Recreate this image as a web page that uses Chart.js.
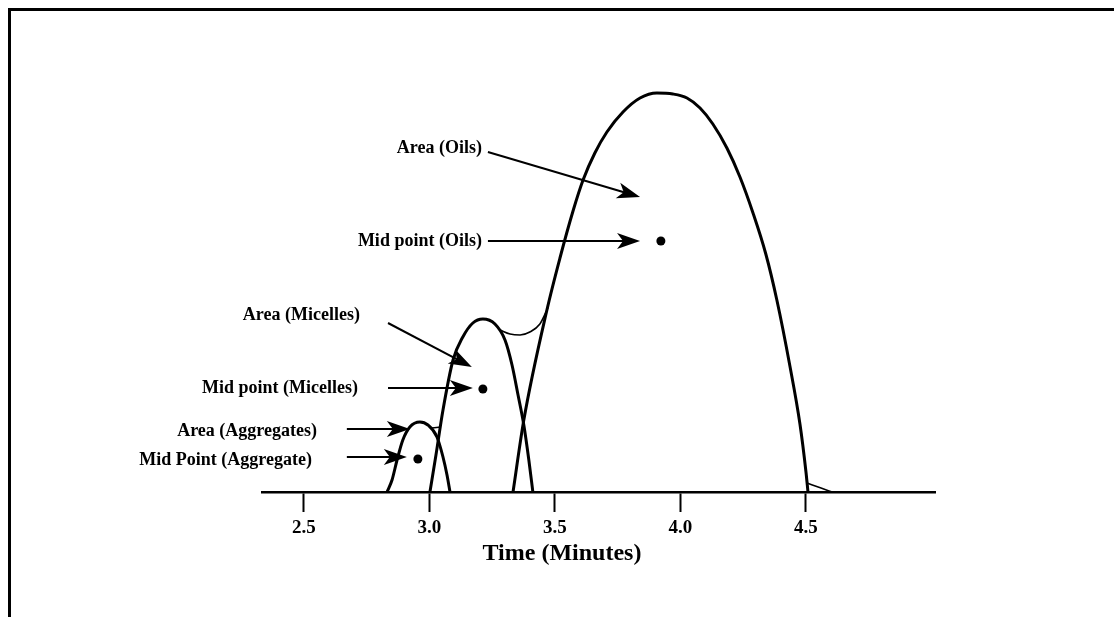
<!DOCTYPE html>
<html lang="en">
  <head>
    <meta charset="UTF-8" />
    <title>Time (Minutes)</title>
    <style>
      body {
        margin: 0;
        background: #fff;
      }
      #wrap {
        position: relative;
        width: 1114px;
        height: 617px;
      }
      #frame {
        position: absolute;
        left: 8px;
        top: 8px;
        right: -10px;
        bottom: -10px;
        border-top: 3px solid #000;
        border-left: 3px solid #000;
      }
    </style>
  </head>
  <body>
    <div id="wrap">
      <div id="frame"></div>
      <canvas id="chart"></canvas>
    </div>

    <script src="https://cdn.jsdelivr.net/npm/chart.js"></script>
    <script>
      // tick labels on the time axis
      const timeTicks = [2.5, 3.0, 3.5, 4.0, 4.5];

      // peak outlines (time in minutes, signal height)
      const oilsX = [3.333, 3.376, 3.468, 3.52, 3.572, 3.612, 3.659, 3.707, 3.771, 3.839, 3.906, 3.97, 4.026, 4.078, 4.129, 4.185, 4.237, 4.289, 4.34, 4.384, 4.436, 4.476, 4.5, 4.508];
      const oilsY = [0, 72, 182, 234, 281, 312, 339, 360, 380, 394, 399, 398, 394, 384, 368, 344, 315, 279, 238, 192, 126, 68, 20, 0];

      const micellesX = [3.002, 3.026, 3.054, 3.094, 3.133, 3.173, 3.213, 3.261, 3.301, 3.329, 3.353, 3.376, 3.396, 3.412];
      const micellesY = [0, 37, 82, 132, 155, 169, 173, 168, 152, 127, 97, 67, 32, 0];

      const aggregatesX = [2.831, 2.851, 2.871, 2.894, 2.922, 2.962, 2.994, 3.03, 3.054, 3.07, 3.082];
      const aggregatesY = [0, 12, 32, 52, 65, 70, 67, 55, 35, 17, 0];

      // thin joining lines
      const envelopeX = [3.281, 3.321, 3.361, 3.4, 3.44, 3.472];
      const envelopeY = [162, 158, 157, 160, 168, 184];
      const shoulderX = [3.01, 3.046];
      const shoulderY = [64, 65];
      const tailX = [4.504, 4.56, 4.604];
      const tailY = [9, 4, 0];

      // mid points
      const midX = [3.922, 3.213, 2.954];
      const midY = [251, 103, 33];

      // annotations: text anchored at its right end, arrow from -> to
      const noteText = ["Area (Oils)", "Mid point (Oils)", "Area (Micelles)", "Mid point (Micelles)", "Area (Aggregates)", "Mid Point (Aggregate)"];
      const noteX = [3.209, 3.209, 2.723, 2.715, 2.552, 2.532];
      const noteY = [344, 251, 177, 104, 61, 32];
      const arrowFromX = [3.233, 3.233, 2.835, 2.835, 2.671, 2.671];
      const arrowFromY = [340, 251, 169, 104, 63, 35];
      const arrowToX = [3.839, 3.839, 3.169, 3.173, 2.922, 2.91];
      const arrowToY = [295, 251, 125, 104, 63, 35];

      const axisTitle = "Time (Minutes)";
      const axisTitleX = 3.528;

      const serif = "'Liberation Serif', 'DejaVu Serif', serif";

      function pts(xs, ys) {
        return xs.map((x, i) => ({ x: x, y: ys[i] }));
      }

      function curve(data, width) {
        return {
          data: data,
          showLine: true,
          borderColor: "#000",
          borderWidth: width,
          pointRadius: 0,
          cubicInterpolationMode: "monotone",
          fill: false,
        };
      }

      const notes = {
        id: "notes",
        afterDatasetsDraw(chart) {
          const ctx = chart.ctx;
          const xs = chart.scales.x;
          const ys = chart.scales.y;
          ctx.save();
          ctx.fillStyle = "#000";
          ctx.strokeStyle = "#000";
          ctx.font = "bold 18px " + serif;
          ctx.textAlign = "right";
          ctx.textBaseline = "middle";
          noteText.forEach((t, i) => {
            ctx.fillText(t, xs.getPixelForValue(noteX[i]), ys.getPixelForValue(noteY[i]));
            const x0 = xs.getPixelForValue(arrowFromX[i]);
            const y0 = ys.getPixelForValue(arrowFromY[i]);
            const x1 = xs.getPixelForValue(arrowToX[i]);
            const y1 = ys.getPixelForValue(arrowToY[i]);
            const a = Math.atan2(y1 - y0, x1 - x0);
            ctx.lineWidth = 2;
            ctx.beginPath();
            ctx.moveTo(x0, y0);
            ctx.lineTo(x1 - 15 * Math.cos(a), y1 - 15 * Math.sin(a));
            ctx.stroke();
            ctx.save();
            ctx.translate(x1, y1);
            ctx.rotate(a);
            ctx.beginPath();
            ctx.moveTo(0, 0);
            ctx.lineTo(-23, -8);
            ctx.lineTo(-17, 0);
            ctx.lineTo(-23, 8);
            ctx.closePath();
            ctx.fill();
            ctx.restore();
          });
          ctx.font = "bold 24px " + serif;
          ctx.textAlign = "center";
          ctx.fillText(axisTitle, xs.getPixelForValue(axisTitleX), 554);
          ctx.restore();
        },
      };

      new Chart(document.getElementById("chart"), {
        type: "scatter",
        data: {
          datasets: [
            curve(pts(oilsX, oilsY), 3),
            curve(pts(micellesX, micellesY), 3),
            curve(pts(aggregatesX, aggregatesY), 3),
            curve(pts(envelopeX, envelopeY), 1.6),
            curve(pts(shoulderX, shoulderY), 1.6),
            curve(pts(tailX, tailY), 1.6),
            {
              data: pts(midX, midY),
              pointRadius: 4.5,
              pointBackgroundColor: "#000",
              pointBorderWidth: 0,
              showLine: false,
            },
          ],
        },
        options: {
          responsive: true,
          maintainAspectRatio: false,
          animation: false,
          layout: { padding: { left: 262, right: 179, top: 12, bottom: 0 } },
          plugins: { legend: { display: false }, tooltip: { enabled: false } },
          scales: {
            x: {
              type: "linear",
              min: 2.333,
              max: 5.014,
              afterBuildTicks: (s) => {
                s.ticks = timeTicks.map((v) => ({ value: v }));
              },
              afterFit: (s) => {
                s.height = 125;
              },
              border: { display: true, color: "#000", width: 2.5 },
              grid: {
                drawOnChartArea: false,
                drawTicks: true,
                tickLength: 20,
                tickWidth: 2,
                tickColor: "#000",
              },
              ticks: {
                color: "#000",
                padding: 5,
                maxRotation: 0,
                font: { family: serif, size: 19, weight: "bold" },
                callback: (v) => v.toFixed(1),
              },
            },
            y: { display: false, min: 0, max: 480 },
          },
        },
        plugins: [notes],
      });
    </script>
  </body>
</html>
